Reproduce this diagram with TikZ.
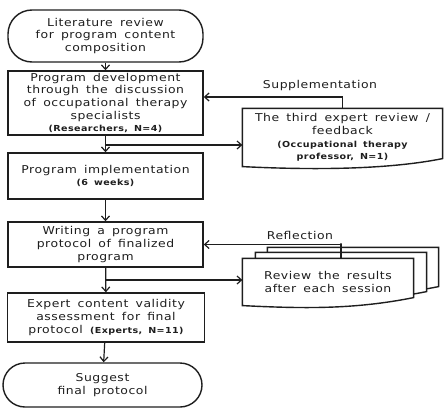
\documentclass[tikz,border=0pt]{standalone}
\usepackage{fontspec}
\setmainfont{DejaVu Sans}[FakeStretch=1.15, LetterSpace=5, WordSpace=1.6]
\usetikzlibrary{arrows.meta,backgrounds}
\definecolor{FlowInk}{HTML}{1E1E1E}

\newcommand{\smallbold}{\fontsize{8.3}{12.7}\selectfont\bfseries}

\begin{document}
\begin{tikzpicture}[
    x=1pt, y=1pt,
    font=\fontsize{10.8}{12.7}\selectfont,
    % default arrow for every connector
    >={Straight Barb[length=4.5pt,width=8pt]},
    line width=1.2pt,
    FlowInk,
    term/.style={draw, line width=1.4pt, rounded corners=24pt, align=center, inner sep=0pt},
    procbox/.style={draw, line width=1.4pt, align=center, inner sep=0pt, minimum width=195pt},
    docbox/.style={align=center, inner sep=0pt},
    flowlabel/.style={inner sep=0pt}
]

    \useasboundingbox (0,0) rectangle (446,416);

    % --- 1. main column ---
    \node[term, minimum width=195pt, minimum height=52pt] (lit) at (105.5,380)
        {Literature review\\for program content\\composition};
    \node[procbox, minimum height=64pt] (dev) at (105.5,313)
        {Program development\\through the discussion\\of occupational therapy\\specialists\\\smallbold (Researchers, N=4)};
    \node[procbox, minimum height=46pt] (impl) at (105.5,240)
        {Program implementation\\\smallbold (6 weeks)};
    \node[procbox, minimum height=45pt] (wr) at (105.5,171.5)
        {Writing a program\\protocol of finalized\\program};
    \node[procbox, minimum width=197pt, minimum height=49pt] (ex) at (106,98.5)
        {Expert content validity\\assessment for final\\protocol {\smallbold (Experts, N=11)}};
    \node[term, minimum width=199pt, minimum height=44pt, rounded corners=22pt] (fin) at (102.5,31)
        {Suggest\\final protocol};

    % --- 2. side documents ---
    \node[docbox, minimum width=199pt, minimum height=57pt] (fb) at (342.5,278.5)
        {The third expert review /\\feedback\\\smallbold (Occupational therapy\\\smallbold professor, N=1)};
    \node[docbox, minimum width=170pt, minimum height=46pt] (rv3) at (353,145) {};
    \node[docbox, minimum width=170pt, minimum height=46pt] (rv2) at (341,140) {};
    \node[docbox, minimum width=170pt, minimum height=46pt] (rv) at (328,134)
        {Review the results\\after each session};

    % outlines with wavy bottom, back sheets first
    \begin{scope}[on background layer]
        \foreach \n in {fb,rv3,rv2,rv} {
            \draw[draw=FlowInk, line width=1.4pt, fill=white] (\n.north west) -- (\n.north east)
                -- ([yshift=8pt]\n.south east)
                .. controls +(-60pt,-12pt) and +(60pt,-3pt) .. (\n.south west)
                -- cycle;
        }
    \end{scope}

    % --- 3. connectors ---
    \draw[->] (lit) -- (dev);
    \draw[->] (dev) -- (impl);
    \draw[->] (impl) -- (wr);
    \draw[->] (wr) -- (ex);
    \draw[->] (ex) -- (fin);

    \coordinate (b1) at (105.5,271);
    \coordinate (b2) at (105.5,136);
    \draw[->] (b1) -- (b1 -| fb.west);
    \draw[->] (b2) -- (b2 -| rv.west);

    % feedback loops
    \draw[->] (fb.north) |- ([yshift=6pt]dev.east);
    \draw[->] (rv.north -| rv2.north) -- ++(0,15) |- (wr.east);

    \node[flowlabel] (sup) at (320,330) {Supplementation};
    \node[flowlabel] (refl) at (300,181) {Reflection};

\end{tikzpicture}
\end{document}
